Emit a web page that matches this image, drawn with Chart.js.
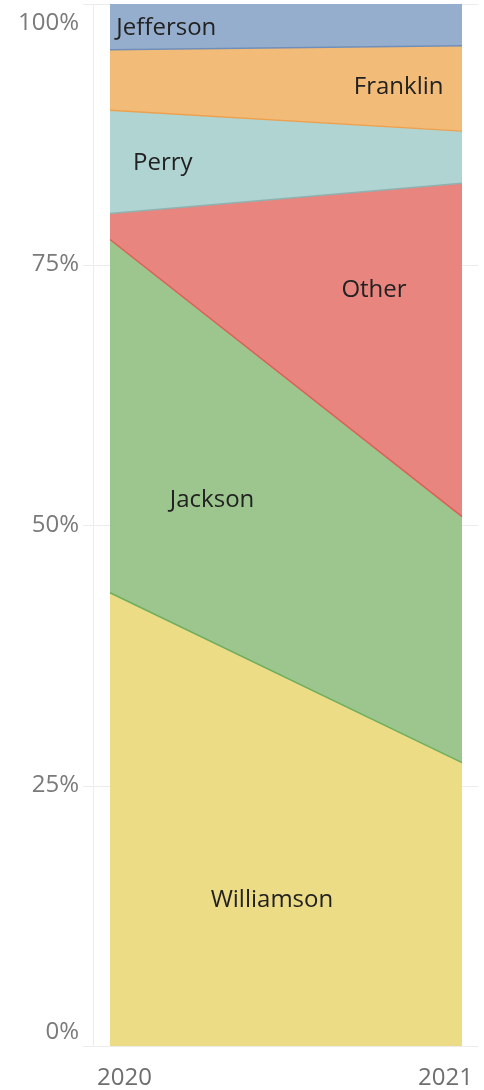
<!DOCTYPE html>
<html>
<head>
<meta charset="utf-8">
<script src="https://cdn.jsdelivr.net/npm/chart.js@4"></script>
<style>
  html, body { margin: 0; padding: 0; background: #fff; }
</style>
</head>
<body>
<canvas id="chart" width="484" height="1090"></canvas>
<script>
const years = ['2020', '2021'];
const williamson = [43.5, 27.2];
const jackson = [33.9, 23.6];
const other = [2.5, 32.0];
const perry = [9.9, 5.0];
const franklin = [5.8, 8.2];
const jefferson = [4.4, 4.0];
const yTicks = [0, 25, 50, 75, 100];

const FONT = '"Open Sans", sans-serif';

// name label anchors: x as fraction across the axis, y as a value on the % scale
const areaLabels = [
  { text: 'Jefferson', fx: 0.16, v: 97.7 },
  { text: 'Franklin', fx: 0.82, v: 92.0 },
  { text: 'Perry', fx: 0.15, v: 84.7 },
  { text: 'Other', fx: 0.75, v: 72.5 },
  { text: 'Jackson', fx: 0.29, v: 52.4 },
  { text: 'Williamson', fx: 0.46, v: 14.0 },
];

// the line on top of each band takes the colour of the band above it
const ds = (label, data, fill, border, first) => ({
  label: label,
  data: data,
  backgroundColor: fill,
  borderColor: border,
  borderWidth: 1.5,
  pointRadius: 0,
  tension: 0,
  fill: first ? 'origin' : '-1',
});

// gridlines behind the areas, tableau-style axis text on top
const axisPlugin = {
  id: 'axisPlugin',
  beforeDatasetsDraw(chart) {
    const ctx = chart.ctx;
    const y = chart.scales.y;
    const a = chart.chartArea;
    ctx.save();
    ctx.strokeStyle = '#ececec';
    ctx.lineWidth = 1;
    yTicks.forEach(t => {
      const py = Math.round(y.getPixelForValue(t)) + 0.5;
      ctx.beginPath();
      ctx.moveTo(a.left - 27, py);
      ctx.lineTo(a.right + 16, py);
      ctx.stroke();
    });
    ctx.beginPath();
    ctx.moveTo(a.left - 16.5, a.top);
    ctx.lineTo(a.left - 16.5, a.bottom);
    ctx.stroke();
    ctx.restore();
  },
  afterDraw(chart) {
    const ctx = chart.ctx;
    const x = chart.scales.x;
    const y = chart.scales.y;
    const a = chart.chartArea;
    ctx.save();
    ctx.font = '24px ' + FONT;
    ctx.fillStyle = '#7a7a7a';
    ctx.textAlign = 'right';
    ctx.textBaseline = 'middle';
    yTicks.forEach(t => {
      let py = y.getPixelForValue(t);
      py = Math.min(Math.max(py, a.top + 19), a.bottom - 14);
      ctx.fillText(t + '%', a.left - 31, py);
    });
    ctx.fillStyle = '#6e6e6e';
    years.forEach((yr, i) => {
      const px = x.getPixelForValue(i);
      if (i === 0) {
        ctx.textAlign = 'left';
        ctx.fillText(yr, px - 13, a.bottom + 32);
      } else {
        ctx.textAlign = 'right';
        ctx.fillText(yr, px + 11, a.bottom + 32);
      }
    });
    ctx.font = '24px ' + FONT;
    ctx.fillStyle = '#222';
    ctx.textAlign = 'center';
    areaLabels.forEach(l => {
      const px = a.left + l.fx * (a.right - a.left);
      ctx.fillText(l.text, px, y.getPixelForValue(l.v));
    });
    ctx.restore();
  }
};

new Chart(document.getElementById('chart'), {
  type: 'line',
  data: {
    labels: years,
    datasets: [
      ds('Williamson', williamson, '#ecdc86', '#6fae5f', true),
      ds('Jackson', jackson, '#9cc68d', '#dc5f58'),
      ds('Other', other, '#e8857f', '#8fb2b0'),
      ds('Perry', perry, '#b0d4d2', '#eea04c'),
      ds('Franklin', franklin, '#f3bb78', '#6f8fba'),
      ds('Jefferson', jefferson, '#96aecd', '#96aecd'),
    ],
  },
  options: {
    responsive: false,
    devicePixelRatio: 1,
    animation: false,
    layout: { padding: { left: 110, right: 22, top: 4, bottom: 44 } },
    scales: {
      x: { display: false, offset: false },
      y: { display: false, stacked: true, min: 0, max: 100 },
    },
    plugins: {
      legend: { display: false },
      tooltip: { enabled: false },
    },
  },
  plugins: [axisPlugin],
});
</script>
</body>
</html>
